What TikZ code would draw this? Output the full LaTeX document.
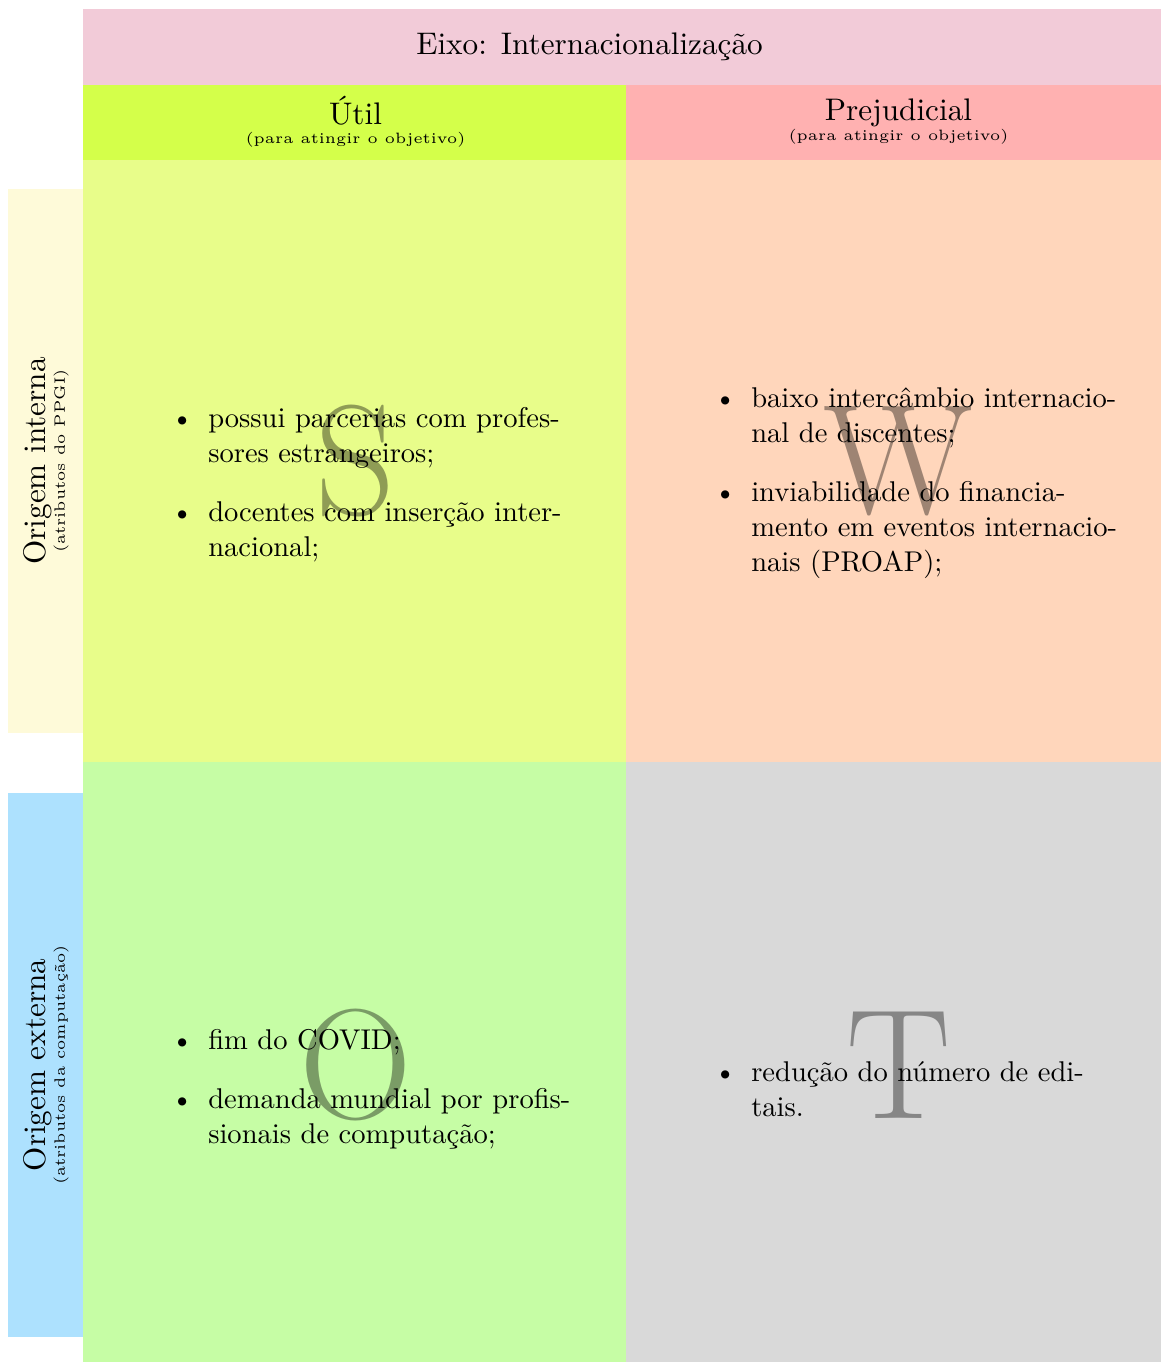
\documentclass[tikz,border=0pt]{standalone}
\usepackage{fontspec}
\usetikzlibrary{positioning}

\definecolor{eixocor}{HTML}{F2CBD8}
\definecolor{utilcor}{HTML}{D4FF4A}
\definecolor{prejcor}{HTML}{FFB1B1}
\definecolor{forcacor}{HTML}{E8FD8A}
\definecolor{fraqcor}{HTML}{FFD6BB}
\definecolor{oportcor}{HTML}{C6FDA5}
\definecolor{ameacor}{HTML}{D9D9D9}
\definecolor{internacor}{HTML}{FEFAD9}
\definecolor{externacor}{HTML}{ADE1FE}

\tikzset{
celula/.style={fill=#1, draw=#1, line width=0.6pt, outer sep=0pt, minimum width=181pt, minimum height=201.33pt, inner sep=0pt, text opacity=0.38, font=\fontsize{52.2pt}{58pt}\selectfont}, % one SWOT quadrant with its big letter
cabecalho/.style={fill=#1, draw=#1, line width=0.6pt, outer sep=0pt, minimum width=181pt, minimum height=25pt, inner sep=0pt, align=center}, % column titles
lateral/.style={fill=#1, minimum width=181.33pt, minimum height=25pt, inner sep=0pt, align=center, rotate=90, anchor=south}, % row titles, turned
itens/.style={anchor=base west, text width=#1, inner sep=0pt, font=\fontsize{9.52pt}{11.67pt}\selectfont}, % bullet lists
}

\begin{document}
\begin{tikzpicture}[x=0.33333pt, y=-0.33333pt, font=\fontsize{10.4pt}{12.5pt}\selectfont]
    \useasboundingbox (0,0) rectangle (1161,1362);
    \clip (0,0) rectangle (1161,1362);
    % quadrants
    \node[celula=forcacor] (S) at (355.5,461) {S};
    \node[celula=fraqcor, right=0pt of S] (W) {W};
    \node[celula=oportcor, below=0pt of S] (O) {O};
    \node[celula=ameacor, right=0pt of O] (T) {T};
    % titles
    \node[cabecalho=utilcor, above=0pt of S] (util) {Útil\\[-6pt]{\tiny (para atingir o objetivo)}};
    \node[cabecalho=prejcor, above=0pt of W] (prej) {Prejudicial\\[-6pt]{\tiny (para atingir o objetivo)}};
    \filldraw[eixocor, line width=0.6pt] (util.north west) rectangle ([yshift=24.67pt]prej.north east);
    \node (eixo) at (589.5,47) {Eixo: Internacionalização};
    \node[lateral=internacor] (interna) at (S.west) {Origem interna\\[-6pt]{\tiny (atributos do PPGI)}};
    \node[lateral=externacor] (externa) at (O.west) {Origem externa\\[-6pt]{\tiny (atributos da computação)}};
    % lists
    \node[itens=147pt] (listaS) at ([xshift=16.23pt, yshift=31pt]S.west) {\begin{itemize}
        \item possui parcerias com profes-\linebreak sores estrangeiros;
        \item docentes com inserção inter-\linebreak nacional;
    \end{itemize}};
    \node[itens=149pt] (listaW) at ([xshift=16.23pt, yshift=37.67pt]W.west) {\begin{itemize}
        \item baixo intercâmbio internacio-\linebreak nal de discentes;
        \item inviabilidade do financia-\linebreak mento em eventos internacio-\linebreak nais (PROAP);
    \end{itemize}};
    \node[itens=147pt] (listaO) at ([xshift=16.23pt, yshift=25pt]O.west) {\begin{itemize}
        \item fim do COVID;
        \item demanda mundial por profis-\linebreak sionais de computação;
    \end{itemize}};
    \node[itens=141.33pt] (listaT) at ([xshift=16.23pt, yshift=14.33pt]T.west) {\begin{itemize}
        \item redução do número de edi-\linebreak tais.
    \end{itemize}};
\end{tikzpicture}
\end{document}
